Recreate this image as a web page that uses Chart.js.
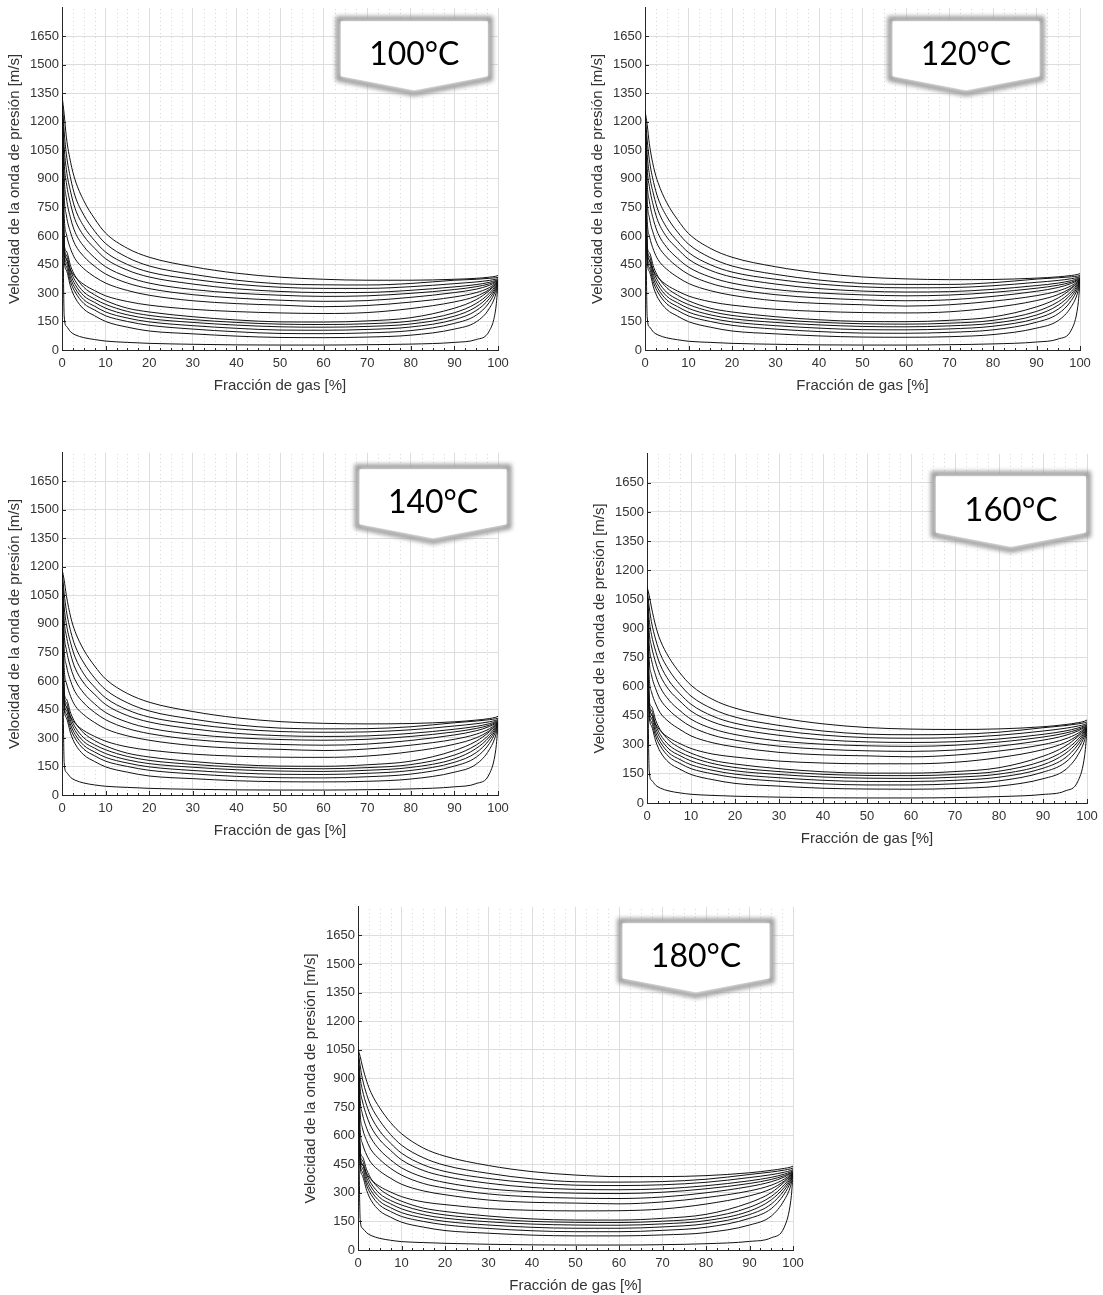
<!DOCTYPE html>
<html lang="es">
<head>
<meta charset="utf-8">
<title>Velocidad de la onda de presión</title>
<script src="https://cdn.jsdelivr.net/npm/chart.js@4.4.1/dist/chart.umd.min.js"></script>
<style>
  html, body { margin: 0; padding: 0; background: #fff; }
  #lienzo { position: relative; width: 1103px; height: 1295px; overflow: hidden; }
  #lienzo canvas { position: absolute; }
</style>
</head>
<body>
<div id="lienzo"></div>
<script>
// eje x común a todas las curvas (fracción de gas en %)
const fraccionGas = [0, 0.5, 1, 2, 3, 5, 7.5, 10, 15, 20, 30, 40, 50, 60, 70, 80, 90, 95, 98, 99.5, 100];
const ticksVelocidad = [0, 150, 300, 450, 600, 750, 900, 1050, 1200, 1350, 1500, 1650];
const ticksFraccion = [0, 10, 20, 30, 40, 50, 60, 70, 80, 90, 100];
const temperaturas = ['100°C', '120°C', '140°C', '160°C', '180°C'];

// velocidad [m/s] de cada curva, 8 superiores y 7 inferiores
const curvas100 = [
    [1340, 1240, 1120, 985, 895, 785, 690, 615, 535, 488, 438, 404, 383, 372, 367, 367, 372, 377, 383, 388, 392],
    [1338, 1150, 1030, 900, 810, 710, 625, 560, 487, 442, 398, 367, 348, 343, 342, 350, 367, 372, 377, 380, 382],
    [1336, 1070, 950, 830, 745, 650, 575, 515, 450, 410, 372, 346, 330, 324, 324, 333, 349, 358, 366, 372, 375],
    [1334, 990, 880, 765, 685, 600, 535, 480, 420, 384, 347, 322, 308, 302, 303, 314, 332, 344, 356, 366, 370],
    [1332, 910, 800, 690, 620, 545, 485, 438, 385, 352, 318, 299, 288, 282, 285, 298, 318, 333, 348, 361, 367],
    [1330, 820, 710, 615, 555, 492, 440, 400, 352, 323, 291, 273, 262, 256, 260, 277, 302, 320, 340, 357, 365],
    [1328, 710, 610, 530, 480, 428, 385, 352, 313, 288, 259, 244, 236, 228, 234, 252, 279, 302, 328, 352, 362],
    [1326, 560, 480, 420, 385, 345, 312, 285, 255, 236, 214, 202, 195, 192, 197, 218, 253, 283, 318, 348, 360],
    [1320, 560, 520, 440, 390, 330, 290, 260, 220, 200, 175, 158, 148, 147, 153, 170, 220, 265, 312, 345, 360],
    [1310, 545, 500, 415, 365, 305, 268, 240, 203, 182, 160, 145, 136, 134, 138, 152, 196, 245, 298, 340, 358],
    [1300, 530, 480, 395, 345, 285, 250, 220, 185, 165, 145, 131, 122, 120, 124, 137, 178, 227, 285, 333, 356],
    [1290, 515, 460, 375, 325, 265, 230, 200, 168, 148, 128, 114, 105, 104, 108, 121, 160, 207, 270, 325, 354],
    [1280, 500, 440, 355, 305, 245, 210, 180, 150, 130, 110, 96, 87, 86, 90, 102, 140, 183, 250, 315, 352],
    [1270, 480, 420, 330, 275, 215, 180, 150, 120, 100, 85, 73, 66, 65, 68, 78, 110, 148, 218, 295, 350],
    [1260, 180, 125, 95, 80, 65, 55, 47, 40, 35, 30, 27, 26, 26, 28, 31, 40, 55, 100, 220, 345]
];

const curvas120 = [
    [1260, 1185, 1085, 960, 880, 775, 685, 613, 535, 488, 438, 405, 384, 374, 370, 371, 378, 385, 392, 398, 402],
    [1258, 1105, 1000, 880, 798, 702, 620, 557, 486, 442, 398, 368, 350, 345, 345, 354, 373, 380, 385, 389, 392],
    [1256, 1030, 925, 815, 735, 643, 571, 513, 449, 410, 372, 347, 332, 327, 328, 338, 356, 366, 375, 382, 386],
    [1254, 955, 860, 752, 677, 594, 532, 478, 419, 384, 347, 323, 310, 305, 307, 319, 339, 352, 365, 376, 381],
    [1252, 880, 783, 680, 613, 540, 482, 436, 384, 352, 318, 300, 290, 285, 289, 303, 325, 341, 357, 371, 378],
    [1250, 795, 697, 607, 549, 488, 437, 398, 351, 323, 291, 274, 264, 259, 264, 282, 309, 329, 350, 367, 376],
    [1248, 690, 600, 524, 475, 425, 383, 350, 312, 288, 259, 245, 238, 231, 238, 257, 286, 311, 338, 362, 373],
    [1246, 545, 472, 415, 381, 342, 310, 284, 254, 236, 214, 203, 197, 195, 201, 223, 260, 292, 328, 358, 371],
    [1240, 550, 512, 435, 386, 328, 288, 259, 220, 200, 175, 159, 150, 149, 156, 174, 227, 274, 322, 355, 370],
    [1230, 535, 493, 410, 362, 303, 266, 239, 203, 182, 160, 146, 138, 136, 141, 156, 203, 254, 308, 350, 368],
    [1220, 520, 473, 391, 342, 283, 248, 219, 185, 165, 145, 132, 124, 122, 127, 141, 184, 236, 295, 343, 366],
    [1210, 505, 453, 371, 322, 263, 228, 199, 168, 148, 128, 115, 107, 106, 111, 125, 166, 215, 280, 335, 364],
    [1200, 490, 433, 351, 302, 243, 208, 179, 150, 130, 110, 97, 89, 88, 93, 106, 146, 191, 260, 325, 362],
    [1190, 470, 413, 326, 272, 213, 178, 149, 120, 100, 85, 74, 68, 67, 70, 81, 115, 155, 228, 305, 360],
    [1180, 175, 122, 93, 79, 64, 54, 46, 40, 35, 30, 27, 26, 26, 28, 32, 42, 58, 105, 230, 355]
];

const curvas140 = [
    [1190, 1130, 1050, 935, 860, 763, 678, 610, 534, 488, 439, 406, 386, 377, 374, 376, 385, 394, 402, 409, 414],
    [1188, 1060, 970, 860, 785, 695, 615, 554, 485, 442, 399, 369, 352, 348, 349, 359, 380, 389, 396, 401, 404],
    [1186, 990, 900, 798, 725, 637, 567, 511, 448, 410, 373, 348, 334, 330, 332, 343, 363, 375, 385, 393, 397],
    [1184, 920, 838, 738, 668, 589, 529, 476, 418, 384, 348, 324, 312, 308, 311, 324, 346, 361, 375, 387, 392],
    [1182, 850, 765, 669, 606, 536, 479, 434, 383, 352, 319, 301, 292, 288, 293, 308, 332, 350, 367, 382, 389],
    [1180, 770, 683, 598, 543, 484, 434, 396, 350, 323, 292, 275, 266, 262, 268, 287, 316, 338, 360, 378, 386],
    [1178, 670, 590, 517, 470, 422, 381, 348, 311, 288, 260, 246, 240, 234, 242, 262, 293, 320, 348, 373, 383],
    [1176, 530, 465, 410, 377, 339, 308, 283, 253, 236, 215, 204, 199, 198, 205, 228, 267, 301, 338, 369, 381],
    [1170, 540, 505, 430, 382, 326, 286, 258, 220, 200, 176, 160, 152, 151, 159, 178, 234, 283, 332, 366, 380],
    [1160, 525, 486, 405, 358, 301, 264, 238, 203, 182, 161, 147, 140, 138, 144, 160, 210, 263, 318, 361, 378],
    [1150, 510, 466, 387, 339, 281, 246, 218, 185, 165, 146, 133, 126, 124, 130, 145, 190, 245, 305, 354, 376],
    [1140, 495, 446, 367, 319, 261, 226, 198, 168, 148, 129, 116, 109, 108, 114, 129, 172, 223, 290, 346, 374],
    [1130, 480, 426, 347, 299, 241, 206, 178, 150, 130, 111, 98, 91, 90, 96, 110, 152, 199, 270, 336, 372],
    [1120, 460, 406, 322, 269, 211, 176, 148, 120, 100, 86, 75, 70, 69, 72, 84, 120, 162, 238, 316, 370],
    [1110, 170, 120, 92, 78, 63, 53, 46, 40, 35, 30, 27, 26, 26, 28, 32, 43, 60, 110, 240, 365]
];

const curvas160 = [
    [1115, 1070, 1010, 910, 840, 750, 670, 607, 533, 489, 440, 408, 389, 381, 379, 382, 393, 404, 414, 422, 428],
    [1113, 1010, 935, 840, 770, 685, 610, 551, 484, 443, 400, 371, 355, 352, 354, 365, 388, 399, 408, 414, 418],
    [1111, 945, 870, 780, 713, 630, 563, 509, 447, 411, 374, 350, 337, 334, 337, 349, 371, 385, 397, 405, 410],
    [1109, 880, 810, 722, 658, 583, 525, 474, 417, 385, 349, 326, 315, 312, 316, 330, 354, 371, 387, 399, 404],
    [1107, 815, 740, 655, 597, 530, 476, 432, 382, 353, 320, 303, 295, 292, 298, 314, 340, 360, 379, 394, 400],
    [1105, 740, 662, 587, 535, 479, 431, 394, 349, 324, 293, 277, 269, 266, 273, 293, 324, 348, 372, 390, 397],
    [1103, 650, 575, 510, 465, 418, 379, 346, 310, 289, 261, 248, 243, 238, 247, 268, 301, 330, 360, 385, 394],
    [1101, 515, 458, 405, 373, 336, 306, 281, 252, 237, 216, 206, 202, 202, 210, 234, 275, 311, 350, 381, 392],
    [1095, 530, 498, 425, 378, 323, 284, 257, 220, 201, 177, 161, 154, 154, 162, 182, 241, 292, 344, 378, 392],
    [1085, 515, 479, 400, 354, 298, 262, 237, 203, 183, 162, 148, 142, 141, 147, 164, 217, 272, 330, 373, 390],
    [1075, 500, 459, 382, 335, 278, 244, 217, 185, 166, 147, 134, 128, 127, 133, 149, 197, 254, 317, 366, 388],
    [1065, 485, 439, 362, 315, 258, 224, 197, 168, 149, 130, 117, 111, 111, 117, 133, 179, 232, 302, 358, 386],
    [1055, 470, 419, 342, 295, 238, 204, 177, 150, 131, 112, 99, 93, 93, 99, 114, 159, 208, 282, 348, 384],
    [1045, 450, 399, 317, 265, 208, 174, 147, 120, 101, 87, 76, 72, 71, 75, 87, 125, 170, 250, 328, 382],
    [1035, 165, 118, 91, 77, 62, 52, 45, 39, 35, 30, 27, 26, 26, 28, 33, 44, 62, 115, 250, 376]
];

const curvas180 = [
    [1055, 1015, 965, 885, 825, 745, 668, 610, 535, 492, 443, 411, 393, 385, 385, 390, 405, 418, 428, 435, 440],
    [1053, 965, 900, 815, 755, 678, 605, 550, 484, 444, 402, 373, 358, 356, 359, 371, 396, 409, 419, 426, 430],
    [1051, 905, 840, 758, 700, 624, 560, 508, 447, 412, 375, 352, 340, 338, 342, 355, 380, 395, 408, 417, 422],
    [1049, 845, 782, 703, 646, 578, 522, 473, 417, 386, 350, 328, 318, 316, 321, 337, 363, 381, 398, 410, 416],
    [1047, 785, 715, 638, 587, 525, 473, 431, 382, 354, 321, 305, 298, 296, 303, 321, 349, 370, 390, 405, 412],
    [1045, 715, 642, 573, 526, 475, 428, 393, 349, 325, 294, 279, 272, 270, 278, 300, 333, 358, 383, 402, 409],
    [1043, 630, 560, 498, 458, 414, 376, 345, 310, 290, 262, 250, 246, 242, 252, 275, 310, 340, 372, 397, 406],
    [1041, 500, 450, 400, 369, 333, 304, 280, 252, 238, 217, 208, 205, 206, 215, 241, 284, 321, 362, 393, 404],
    [1035, 520, 490, 420, 374, 320, 282, 256, 220, 202, 178, 163, 157, 157, 166, 187, 248, 301, 356, 390, 404],
    [1025, 505, 471, 395, 350, 295, 260, 236, 203, 184, 163, 150, 145, 144, 151, 169, 224, 281, 342, 385, 402],
    [1015, 490, 451, 377, 331, 275, 242, 216, 185, 167, 148, 136, 131, 130, 137, 154, 204, 263, 329, 378, 400],
    [1005, 475, 431, 357, 311, 255, 222, 196, 168, 150, 131, 119, 114, 114, 121, 138, 186, 241, 314, 370, 398],
    [995, 460, 411, 337, 291, 235, 202, 176, 150, 132, 113, 101, 96, 96, 103, 119, 166, 217, 294, 360, 396],
    [985, 440, 391, 312, 261, 205, 172, 146, 120, 102, 88, 78, 74, 74, 79, 91, 131, 178, 262, 340, 394],
    [975, 160, 115, 90, 76, 61, 51, 44, 39, 35, 30, 27, 26, 26, 28, 33, 45, 64, 120, 260, 388]
];

// área de trazado de cada gráfico en la página y posición del globo (en unidades de los ejes)
const paneles = [
    { curvas: curvas100, area: { l: 62, r: 498, t: 7, b: 350 }, globo: { x: 80.8, y: 1742, k: 1 } },
    { curvas: curvas120, area: { l: 645, r: 1080, t: 7, b: 350 }, globo: { x: 73.8, y: 1742, k: 1 } },
    { curvas: curvas140, area: { l: 62, r: 498, t: 452, b: 795 }, globo: { x: 85.1, y: 1727, k: 1 } },
    { curvas: curvas160, area: { l: 647, r: 1087, t: 453, b: 803 }, globo: { x: 82.7, y: 1697, k: 1.02 } },
    { curvas: curvas180, area: { l: 358, r: 793, t: 906, b: 1250 }, globo: { x: 77.7, y: 1727, k: 1 } }
];

const FUENTE = "'Liberation Sans', Arial, Helvetica, sans-serif";
const GRIS_EJE = '#262626';
const GRIS_TEXTO = '#333333';
const GRIS_REJILLA = '#dddddd';

const ANCHO_EJE_Y = 62;
const ALTO_EJE_X = 46;
const MARGEN_SUP = 10;
const MARGEN_DER = 26;

// rejilla secundaria punteada en x y marcas hacia dentro (estilo MATLAB)
const rejillaMenor = {
    id: 'rejillaMenor',
    beforeDatasetsDraw(chart) {
        const { ctx, chartArea: a, scales: { x, y } } = chart;
        const menores = [];
        for (let v = 2.5; v < 100; v += 2.5) {
            if (v % 10 !== 0) menores.push(v);
        }

        ctx.save();
        ctx.lineWidth = 1;
        ctx.strokeStyle = '#d6d6d6';
        ctx.setLineDash([1, 3]);
        menores.forEach((v) => {
            const px = Math.round(x.getPixelForValue(v)) + 0.5;
            ctx.beginPath();
            ctx.moveTo(px, a.bottom);
            ctx.lineTo(px, a.top);
            ctx.stroke();
        });

        ctx.setLineDash([]);
        ctx.strokeStyle = GRIS_EJE;
        ctx.beginPath();
        menores.forEach((v) => {
            const px = Math.round(x.getPixelForValue(v)) + 0.5;
            ctx.moveTo(px, a.bottom);
            ctx.lineTo(px, a.bottom - 2);
        });
        ticksFraccion.forEach((v) => {
            const px = Math.round(x.getPixelForValue(v)) + 0.5;
            ctx.moveTo(px, a.bottom);
            ctx.lineTo(px, a.bottom - 4);
        });
        ticksVelocidad.forEach((v) => {
            const py = Math.round(y.getPixelForValue(v)) + 0.5;
            ctx.moveTo(a.left, py);
            ctx.lineTo(a.left + 4, py);
        });
        ctx.stroke();
        ctx.restore();
    }
};

// globo con la temperatura
const globo = {
    id: 'globo',
    afterDraw(chart, args, opts) {
        if (!opts || !opts.texto) return;
        const { ctx, scales: { x, y } } = chart;
        const k = opts.k || 1;
        const cx = x.getPixelForValue(opts.x);
        const top = y.getPixelForValue(opts.y);
        const w = 152 * k, h = 60 * k, pico = 15 * k;

        const trazar = (d) => {
            ctx.beginPath();
            ctx.moveTo(cx - w / 2 + d, top + d);
            ctx.lineTo(cx + w / 2 - d, top + d);
            ctx.lineTo(cx + w / 2 - d, top + h - d);
            ctx.lineTo(cx, top + h + pico - d * 1.4);
            ctx.lineTo(cx - w / 2 + d, top + h - d);
            ctx.closePath();
        };

        ctx.save();
        ctx.fillStyle = '#fff';
        trazar(0);
        ctx.fill();

        ctx.filter = 'blur(2px)';
        ctx.lineJoin = 'miter';
        ctx.lineWidth = 5;
        ctx.strokeStyle = '#979797';
        trazar(0);
        ctx.stroke();
        ctx.filter = 'none';

        ctx.fillStyle = '#fff';
        trazar(2.5);
        ctx.fill();

        ctx.fillStyle = '#000';
        ctx.font = `${Math.round(32 * k)}px Lato, 'Open Sans', sans-serif`;
        ctx.textAlign = 'center';
        ctx.textBaseline = 'alphabetic';
        ctx.fillText(opts.texto, cx, top + 46 * k);
        ctx.restore();
    }
};

function crearPanel(panel, idx) {
    const { area } = panel;
    const canvas = document.createElement('canvas');
    const ancho = area.r - area.l + ANCHO_EJE_Y + MARGEN_DER;
    const alto = area.b - area.t + MARGEN_SUP + ALTO_EJE_X;
    canvas.width = ancho;
    canvas.height = alto;
    canvas.style.width = ancho + 'px';
    canvas.style.height = alto + 'px';
    canvas.style.left = (area.l - ANCHO_EJE_Y) + 'px';
    canvas.style.top = (area.t - MARGEN_SUP) + 'px';
    document.getElementById('lienzo').append(canvas);

    const datasets = panel.curvas.map((serie) => ({
        data: serie.map((v, j) => ({ x: fraccionGas[j], y: v })),
        borderColor: '#111',
        borderWidth: 1,
        pointRadius: 0,
        fill: false,
        cubicInterpolationMode: 'monotone'
    }));

    return new Chart(canvas, {
        type: 'line',
        data: { datasets },
        plugins: [rejillaMenor, globo],
        options: {
            responsive: false,
            animation: false,
            devicePixelRatio: 1,
            layout: { padding: { top: MARGEN_SUP, right: MARGEN_DER, left: 0, bottom: 0 } },
            plugins: {
                legend: { display: false },
                tooltip: { enabled: false },
                globo: { texto: temperaturas[idx], x: panel.globo.x, y: panel.globo.y, k: panel.globo.k }
            },
            scales: {
                x: {
                    type: 'linear',
                    min: 0,
                    max: 100,
                    afterFit: (s) => { s.height = ALTO_EJE_X; },
                    ticks: {
                        stepSize: 10,
                        autoSkip: false,
                        maxRotation: 0,
                        padding: 6,
                        color: GRIS_TEXTO,
                        font: { family: FUENTE, size: 13 }
                    },
                    grid: { color: GRIS_REJILLA, lineWidth: 1, drawTicks: false },
                    border: { color: GRIS_EJE, width: 1 },
                    title: {
                        display: true,
                        text: 'Fracción de gas [%]',
                        color: GRIS_TEXTO,
                        font: { family: FUENTE, size: 15 },
                        padding: { top: 0, bottom: 1 }
                    }
                },
                y: {
                    type: 'linear',
                    min: 0,
                    max: 1800,
                    afterFit: (s) => { s.width = ANCHO_EJE_Y; },
                    ticks: {
                        stepSize: 150,
                        autoSkip: false,
                        padding: 3,
                        color: GRIS_TEXTO,
                        font: { family: FUENTE, size: 13 },
                        callback: (v) => (ticksVelocidad.includes(v) ? String(v) : '')
                    },
                    grid: {
                        color: (c) => (c.tick && c.tick.value === 1800 ? 'rgba(0,0,0,0)' : GRIS_REJILLA),
                        lineWidth: 1,
                        drawTicks: false
                    },
                    border: { color: GRIS_EJE, width: 1 },
                    title: {
                        display: true,
                        text: 'Velocidad de la onda de presión [m/s]',
                        color: GRIS_TEXTO,
                        font: { family: FUENTE, size: 15 },
                        padding: { top: 6, bottom: 0 }
                    }
                }
            }
        }
    });
}

paneles.forEach(crearPanel);
</script>
</body>
</html>
